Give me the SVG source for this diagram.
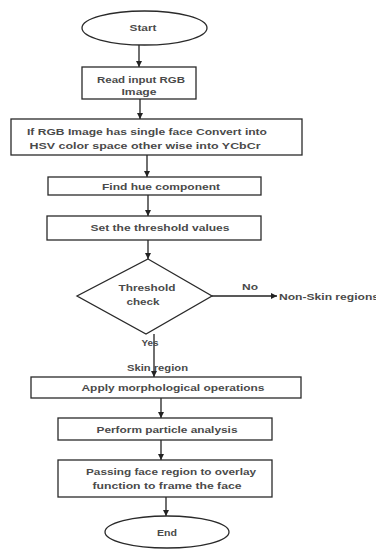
<svg xmlns="http://www.w3.org/2000/svg" width="376" height="549" viewBox="0 0 376 549">
<style>
.shape{fill:#fff;stroke:#2a2a2a;stroke-width:1.3}
.t{font-family:"Liberation Sans",Arial,sans-serif;font-size:9px;font-weight:bold;fill:#4a4a4a;text-anchor:middle}
.ts{font-family:"Liberation Sans",Arial,sans-serif;font-size:9px;font-weight:bold;fill:#4a4a4a}
.c{fill:none;stroke:#222;stroke-width:1.3;marker-end:url(#ah)}
</style>
<defs>
<marker id="ah" markerUnits="userSpaceOnUse" markerWidth="7" markerHeight="6" refX="6" refY="3" orient="auto">
<path d="M0,0 L6,3 L0,6 Z" fill="#222"/>
</marker>
</defs>
<rect width="376" height="549" fill="#fff"/>
<g id="connectors">
<line class="c" x1="139" y1="45" x2="139" y2="67"/>
<line class="c" x1="140" y1="99" x2="140" y2="119"/>
<line class="c" x1="147" y1="155" x2="147" y2="177"/>
<line class="c" x1="148" y1="195" x2="148" y2="216"/>
<line class="c" x1="148" y1="240" x2="148" y2="259"/>
<line class="c" x1="212" y1="296" x2="277" y2="296"/>
<line class="c" x1="154" y1="334" x2="154" y2="377"/>
<line class="c" x1="161" y1="398" x2="161" y2="418"/>
<line class="c" x1="161" y1="440" x2="161" y2="460"/>
<line class="c" x1="166" y1="497" x2="166" y2="516"/>
<text class="t" x="250" y="290" textLength="16" lengthAdjust="spacingAndGlyphs">No</text>
<text class="t" x="150" y="346" textLength="17" lengthAdjust="spacingAndGlyphs">Yes</text>
<text class="t" x="157.5" y="371" textLength="61" lengthAdjust="spacingAndGlyphs">Skin region</text>
</g>
<g id="start">
<ellipse class="shape" cx="144.5" cy="28" rx="62.5" ry="17"/>
<text class="t" x="143" y="31" textLength="27" lengthAdjust="spacingAndGlyphs">Start</text>
</g>
<g id="read">
<rect class="shape" x="82" y="67" width="114" height="32"/>
<text class="t" x="141" y="83" textLength="88" lengthAdjust="spacingAndGlyphs">Read input RGB</text>
<text class="t" x="139" y="95" textLength="35" lengthAdjust="spacingAndGlyphs">Image</text>
</g>
<g id="convert">
<rect class="shape" x="11" y="119" width="291" height="36"/>
<text class="t" x="147" y="135" textLength="240" lengthAdjust="spacingAndGlyphs">If RGB Image has single face Convert into</text>
<text class="t" x="145" y="149" textLength="231" lengthAdjust="spacingAndGlyphs">HSV color space  other wise into YCbCr</text>
</g>
<g id="hue">
<rect class="shape" x="48" y="177" width="213" height="18"/>
<text class="t" x="161" y="190" textLength="118" lengthAdjust="spacingAndGlyphs">Find hue component</text>
</g>
<g id="threshold">
<rect class="shape" x="47" y="216" width="214" height="24"/>
<text class="t" x="160" y="231" textLength="139" lengthAdjust="spacingAndGlyphs">Set the threshold values</text>
</g>
<g id="check">
<polygon class="shape" points="148,259 212,296 146,334 77,296"/>
<text class="t" x="147" y="291" textLength="57" lengthAdjust="spacingAndGlyphs">Threshold</text>
<text class="t" x="143" y="305" textLength="33" lengthAdjust="spacingAndGlyphs">check</text>
</g>
<g id="nonskin">
<text class="ts" x="279" y="300" textLength="100" lengthAdjust="spacingAndGlyphs">Non-Skin regions</text>
</g>
<g id="morph">
<rect class="shape" x="31" y="377" width="270" height="21"/>
<text class="t" x="173" y="391" textLength="183" lengthAdjust="spacingAndGlyphs">Apply morphological operations</text>
</g>
<g id="particle">
<rect class="shape" x="58" y="418" width="214" height="22"/>
<text class="t" x="167" y="433" textLength="141" lengthAdjust="spacingAndGlyphs">Perform particle analysis</text>
</g>
<g id="overlay">
<rect class="shape" x="58" y="460" width="214" height="37"/>
<text class="t" x="171" y="475" textLength="170" lengthAdjust="spacingAndGlyphs">Passing face region to overlay</text>
<text class="t" x="167" y="489" textLength="149" lengthAdjust="spacingAndGlyphs">function to frame the face</text>
</g>
<g id="end">
<ellipse class="shape" cx="167" cy="532" rx="62" ry="16"/>
<text class="t" x="167" y="536" textLength="20" lengthAdjust="spacingAndGlyphs">End</text>
</g>
</svg>
